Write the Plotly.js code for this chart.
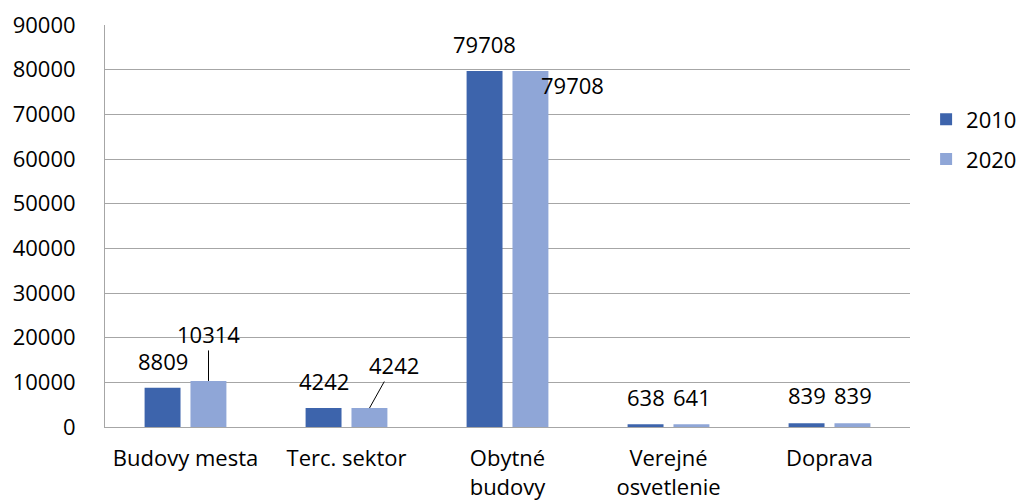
<!DOCTYPE html>
<html><head><meta charset="utf-8">
<script src="https://cdn.plot.ly/plotly-3.0.1.min.js"></script>
<style>html,body{margin:0;padding:0;background:#fff}#chart{width:1024px;height:503px}</style>
</head><body><div id="chart"></div>
<script>
var categories = ["Budovy mesta", "Terc. sektor", "Obytné<br>budovy", "Verejné<br>osvetlenie", "Doprava"];
var values2010 = [8809, 4242, 79708, 638, 839];
var values2020 = [10314, 4242, 79708, 641, 839];
var seriesNames = ["2010", "2020"];
var tickVals = [0, 10000, 20000, 30000, 40000, 50000, 60000, 70000, 80000, 90000];

var c2010 = "#3D64AC", c2020 = "#8FA6D7";
var FONT = "'Open Sans', sans-serif";
var FS = 22;

var traces = [
  {type: "bar", name: seriesNames[0], x: categories, y: values2010, marker: {color: c2010}, legendgroup: "a", hoverinfo: "none"},
  {type: "bar", name: seriesNames[1], x: categories, y: values2020, marker: {color: c2020}, legendgroup: "b", hoverinfo: "none"}
];

var off2010 = [{dx: 0, dy: 27}, {dx: 0, dy: 27}, {dx: 0, dy: 27}, {dx: 0, dy: 27}, {dx: 0, dy: 28}];
var off2020 = [{dx: 0, dy: 47, arrow: true, ax: 0}, {dx: 0, dy: 43, arrow: true, ax: 24}, {dx: 42, dy: -14}, {dx: 0, dy: 27}, {dx: 0, dy: 28}];

var annotations = [];
categories.forEach(function (cat, i) {
  var o = off2010[i];
  annotations.push({x: cat, y: values2010[i], text: String(values2010[i]), showarrow: false,
    xshift: -23 + o.dx, yshift: o.dy, yanchor: "middle", xanchor: "center", font: {family: FONT, size: FS, color: "#000"}});
  var p = off2020[i];
  if (p.arrow) {
    annotations.push({x: cat, y: values2020[i], text: String(values2020[i]), showarrow: true, arrowhead: 0,
      arrowwidth: 1, arrowcolor: "#000", ax: p.ax, ay: -p.dy, xshift: 23, standoff: 0,
      font: {family: FONT, size: FS, color: "#000"}});
  } else {
    annotations.push({x: cat, y: values2020[i], text: String(values2020[i]), showarrow: false,
      xshift: 23 + p.dx, yshift: p.dy, yanchor: "middle", xanchor: "center", font: {family: FONT, size: FS, color: "#000"}});
  }
});

var layout = {
  width: 1024, height: 503,
  margin: {l: 105, r: 114, t: 25, b: 76, autoexpand: false},
  paper_bgcolor: "#fff", plot_bgcolor: "#fff",
  font: {family: FONT, size: FS, color: "#000"},
  barmode: "group", bargap: 0.43, bargroupgap: 0.217,
  showlegend: true,
  legend: {x: 1.02, xanchor: "left", y: 0.715, yanchor: "middle", traceorder: "grouped", tracegroupgap: 8,
    itemwidth: 30, font: {family: FONT, size: FS, color: "#000"}, bgcolor: "rgba(0,0,0,0)", borderwidth: 0},
  xaxis: {type: "category", showgrid: false, showline: true, linecolor: "#A6A6A6", linewidth: 1,
    ticks: "", ticklabelstandoff: 12, tickfont: {family: FONT, size: FS, color: "#000"}, fixedrange: true},
  yaxis: {range: [0, 90000], tickvals: tickVals, ticktext: tickVals.map(String), showgrid: true, gridcolor: "#A6A6A6",
    gridwidth: 1, showline: true, linecolor: "#A6A6A6", zeroline: false, ticks: "", ticklabelstandoff: 24,
    tickfont: {family: FONT, size: FS, color: "#000"}, fixedrange: true},
  annotations: annotations
};

Plotly.newPlot("chart", traces, layout, {displayModeBar: false, staticPlot: true});
</script></body></html>
